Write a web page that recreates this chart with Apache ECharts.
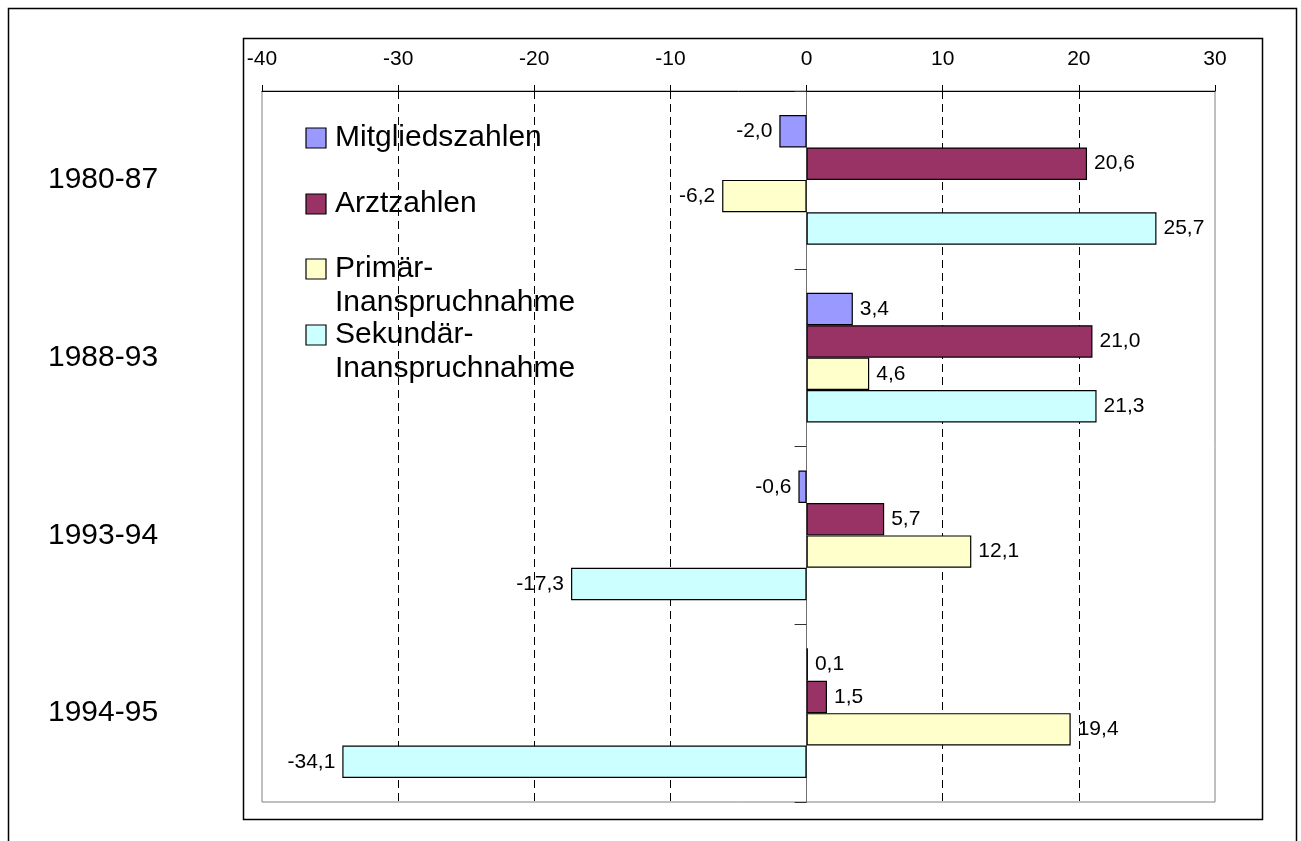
<!DOCTYPE html>
<html>
<head>
<meta charset="utf-8">
<script src="https://cdn.jsdelivr.net/npm/echarts@6/dist/echarts.min.js"></script>
<style>
  html, body { margin: 0; padding: 0; background: #fff; }
  #chart { width: 1301px; height: 841px; }
</style>
</head>
<body>
<div id="chart"></div>
<script>
// === DATA ===
const periods = ['1980-87', '1988-93', '1993-94', '1994-95'];
const seriesNames = ['Mitgliedszahlen', 'Arztzahlen', 'Primär-\nInanspruchnahme', 'Sekundär-\nInanspruchnahme'];
const mitglieder = [-2.0, 3.4, -0.6, 0.1];
const aerzte = [20.6, 21.0, 5.7, 1.5];
const primaer = [-6.2, 4.6, 12.1, 19.4];
const sekundaer = [25.7, 21.3, -17.3, -34.1];
const xTicks = [-40, -30, -20, -10, 0, 10, 20, 30];

const seriesValues = [mitglieder, aerzte, primaer, sekundaer];
const seriesColors = ['#9999FF', '#993366', '#FFFFCC', '#CCFFFF'];
const FONT = "'Liberation Sans', Arial, sans-serif";

function fmt(v) {
    return v.toFixed(1).replace('.', ',');
}

const chart = echarts.init(document.getElementById('chart'));

// legend as graphic (marker aligned with first text line like the original)
const legendCenters = [138, 204, 269, 335];
const legendGraphics = [];
seriesNames.forEach((name, i) => {
    legendGraphics.push({
        type: 'rect',
        shape: { x: 306, y: legendCenters[i] - 10, width: 20, height: 20 },
        style: { fill: seriesColors[i], stroke: '#000', lineWidth: 1.2 },
        z: 100
    });
    legendGraphics.push({
        type: 'text',
        x: 335,
        y: legendCenters[i] - 17,
        style: {
            text: name,
            font: '30px ' + FONT,
            fill: '#000',
            lineHeight: 34,
            verticalAlign: 'top',
            align: 'left'
        },
        z: 100
    });
});

const option = {
    animation: false,
    backgroundColor: '#fff',
    textStyle: { fontFamily: FONT },
    graphic: [
        {
            type: 'rect',
            shape: { x: 8.5, y: 8.5, width: 1288, height: 860 },
            style: { fill: 'none', stroke: '#000', lineWidth: 1.5 },
            z: -1
        },
        {
            type: 'rect',
            shape: { x: 243.5, y: 38.5, width: 1019, height: 781 },
            style: { fill: 'none', stroke: '#000', lineWidth: 1.5 },
            z: -1
        }
    ].concat(legendGraphics),
    grid: {
        left: 262,
        right: 86,
        top: 91,
        bottom: 39,
        show: true,
        borderColor: '#808080',
        borderWidth: 1
    },
    xAxis: {
        type: 'value',
        position: 'top',
        min: xTicks[0],
        max: xTicks[xTicks.length - 1],
        interval: 10,
        axisLine: { show: true, onZero: false, lineStyle: { color: '#000', width: 1 } },
        axisTick: { show: true, length: 6, lineStyle: { color: '#000' } },
        axisLabel: { fontSize: 21, color: '#000', margin: 21, fontFamily: FONT },
        splitLine: {
            show: true,
            lineStyle: {
                color: ['transparent', '#000', '#000', '#000', 'transparent', '#000', '#000', 'transparent'],
                type: [8, 5],
                width: 1
            }
        }
    },
    yAxis: [
        {
            type: 'category',
            inverse: true,
            data: periods,
            position: 'left',
            axisLine: { show: false, onZero: false },
            axisTick: { show: false },
            axisLabel: { fontSize: 30, color: '#000', align: 'left', margin: 214, fontFamily: FONT },
            splitLine: { show: false }
        },
        {
            type: 'category',
            inverse: true,
            data: periods,
            position: 'left',
            axisLine: { show: true, onZero: true, lineStyle: { color: '#707070', width: 1 } },
            axisTick: { show: true, length: 12, lineStyle: { color: '#333' } },
            axisLabel: { show: false },
            splitLine: { show: false }
        }
    ],
    series: seriesNames.map((name, i) => ({
        name: name,
        type: 'bar',
        yAxisIndex: 0,
        barGap: 0,
        barCategoryGap: '27%',
        itemStyle: { color: seriesColors[i], borderColor: '#000', borderWidth: 1.2 },
        label: {
            show: true,
            fontSize: 21,
            color: '#000',
            distance: 7,
            fontFamily: FONT,
            formatter: p => fmt(p.value)
        },
        data: seriesValues[i].map(v => ({
            value: v,
            label: { position: v < 0 ? 'left' : 'right' }
        })),
        z: 3
    }))
};

chart.setOption(option);
</script>
</body>
</html>
